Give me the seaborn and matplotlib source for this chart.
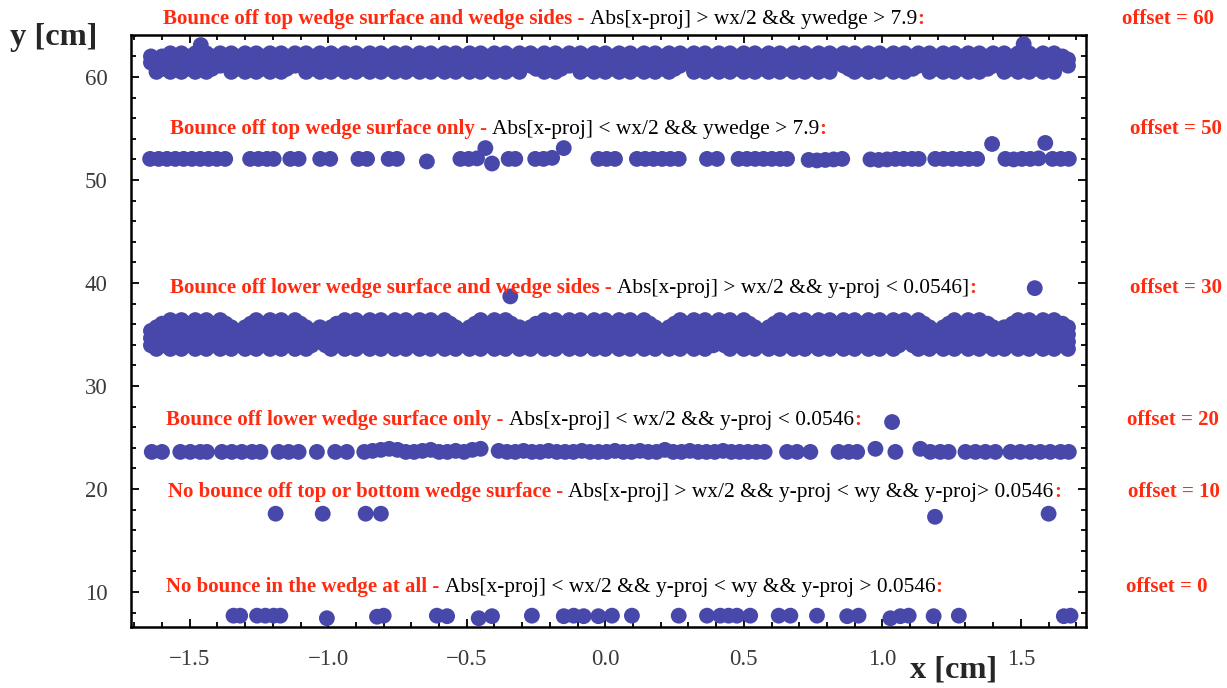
import matplotlib
matplotlib.use("Agg")
import matplotlib.pyplot as plt
from matplotlib.ticker import MultipleLocator
import pandas as pd
import seaborn as sns

# ---------------------------------------------------------------------------
# Hit positions (x [cm], y [cm]) grouped by bounce category
# ---------------------------------------------------------------------------

# Full-width fill positions used inside both dense strips (two staggered sets)
strip_even_x = [
    -1.64, -1.60, -1.55, -1.51, -1.46, -1.42, -1.37, -1.33, -1.28, -1.24,
    -1.19, -1.15, -1.10, -1.06, -1.01, -0.97, -0.92, -0.88, -0.83, -0.79,
    -0.74, -0.70, -0.65, -0.61, -0.56, -0.52, -0.47, -0.43, -0.38, -0.34,
    -0.29, -0.25, -0.20, -0.16, -0.11, -0.07, -0.02, 0.03, 0.07, 0.12,
    0.16, 0.21, 0.25, 0.30, 0.34, 0.39, 0.43, 0.48, 0.52, 0.57,
    0.61, 0.66, 0.70, 0.75, 0.79, 0.84, 0.88, 0.93, 0.97, 1.02,
    1.06, 1.11, 1.15, 1.20, 1.24, 1.29, 1.33, 1.38, 1.42, 1.47,
    1.51, 1.56, 1.60, 1.65]
strip_odd_x = [
    -1.62, -1.57, -1.53, -1.48, -1.44, -1.39, -1.35, -1.30, -1.26, -1.21,
    -1.17, -1.12, -1.08, -1.03, -0.99, -0.94, -0.90, -0.85, -0.81, -0.76,
    -0.72, -0.67, -0.63, -0.58, -0.54, -0.49, -0.45, -0.40, -0.36, -0.31,
    -0.27, -0.22, -0.18, -0.13, -0.09, -0.04, 0.00, 0.05, 0.09, 0.14,
    0.18, 0.23, 0.27, 0.32, 0.36, 0.41, 0.45, 0.50, 0.54, 0.59,
    0.63, 0.68, 0.72, 0.77, 0.81, 0.86, 0.90, 0.95, 0.99, 1.04,
    1.08, 1.13, 1.17, 1.22, 1.26, 1.31, 1.35, 1.40, 1.44, 1.49,
    1.53, 1.58, 1.62, 1.67]

# offset = 60 : bounce off top wedge surface and wedge sides (dense strip)
top_sides_y_levels = [60.5, 60.8, 61.1, 61.4, 61.7, 62.0, 62.3]
top_sides_low_a_x = [
    -1.62, -1.57, -1.53, -1.48, -1.44, -1.35, -1.30, -1.26, -1.21, -1.17,
    -1.08, -1.03, -0.99, -0.94, -0.90, -0.85, -0.81, -0.76, -0.72, -0.67,
    -0.63, -0.58, -0.54, -0.49, -0.45, -0.40, -0.36, -0.31, -0.22, -0.18,
    -0.09, -0.04, 0.00, 0.05, 0.09, 0.14, 0.18, 0.23, 0.32, 0.36,
    0.41, 0.45, 0.50, 0.54, 0.59, 0.63, 0.68, 0.72, 0.77, 0.81,
    0.90, 0.95, 0.99, 1.04, 1.08, 1.17, 1.22, 1.26, 1.31, 1.35,
    1.44, 1.49, 1.53, 1.58, 1.62]
top_sides_low_b_x = [
    -1.60, -1.55, -1.51, -1.46, -1.42, -1.33, -1.28, -1.24,
    -1.19, -1.15, -1.06, -1.01, -0.97, -0.92, -0.88, -0.83, -0.79,
    -0.74, -0.70, -0.65, -0.61, -0.56, -0.52, -0.47, -0.43, -0.38, -0.34,
    -0.25, -0.20, -0.16, -0.07, -0.02, 0.03, 0.07, 0.12,
    0.16, 0.21, 0.25, 0.34, 0.39, 0.43, 0.48, 0.52, 0.57,
    0.61, 0.66, 0.70, 0.75, 0.79, 0.88, 0.93, 0.97, 1.02,
    1.06, 1.11, 1.20, 1.24, 1.29, 1.33, 1.38, 1.47,
    1.51, 1.56, 1.60]
top_sides_high_x = [
    -1.57, -1.53, -1.48, -1.44, -1.39, -1.35, -1.30, -1.26, -1.21,
    -1.17, -1.12, -1.08, -1.03, -0.99, -0.94, -0.90, -0.85, -0.81, -0.76,
    -0.72, -0.67, -0.63, -0.58, -0.54, -0.49, -0.45, -0.40, -0.36, -0.31,
    -0.27, -0.22, -0.18, -0.13, -0.09, -0.04, 0.00, 0.05, 0.09, 0.14,
    0.18, 0.23, 0.27, 0.32, 0.36, 0.41, 0.45, 0.50, 0.54, 0.59,
    0.63, 0.68, 0.72, 0.77, 0.81, 0.86, 0.90, 0.95, 0.99, 1.04,
    1.08, 1.13, 1.17, 1.22, 1.26, 1.31, 1.35, 1.40, 1.44, 1.49,
    1.53, 1.58, 1.62]
top_sides_extra_x = [-1.46, 1.51]
top_sides_extra_y = [63.1, 63.2]

# offset = 50 : bounce off top wedge surface only
top_only_x = [
    -1.643, -1.612, -1.582, -1.552, -1.522, -1.492, -1.462, -1.432, -1.402, -1.372,
    -1.282, -1.252, -1.221, -1.197, -1.137, -1.107, -1.029, -0.993, -0.891, -0.860,
    -0.782, -0.752, -0.644, -0.523, -0.493, -0.463, -0.433, -0.409, -0.349, -0.325,
    -0.253, -0.223, -0.192, -0.150, -0.025, 0.005, 0.035, 0.114, 0.144, 0.174,
    0.205, 0.235, 0.265, 0.367, 0.403, 0.481, 0.511, 0.541, 0.571, 0.601,
    0.631, 0.656, 0.734, 0.764, 0.794, 0.824, 0.855, 0.957, 0.987, 1.017,
    1.047, 1.077, 1.107, 1.131, 1.191, 1.221, 1.252, 1.282, 1.312, 1.342,
    1.396, 1.444, 1.474, 1.504, 1.534, 1.564, 1.588, 1.614, 1.644, 1.673]
top_only_y = [
    52.05, 52.05, 52.05, 52.05, 52.05, 52.05, 52.05, 52.05, 52.05, 52.05,
    52.05, 52.05, 52.05, 52.05, 52.05, 52.05, 52.05, 52.05, 52.05, 52.05,
    52.05, 52.05, 51.8, 52.05, 52.05, 52.1, 53.1, 51.6, 52.05, 52.05,
    52.05, 52.05, 52.15, 53.1, 52.05, 52.05, 52.05, 52.05, 52.05, 52.05,
    52.05, 52.05, 52.05, 52.05, 52.05, 52.05, 52.05, 52.05, 52.05, 52.05,
    52.05, 52.05, 51.95, 51.9, 51.95, 52.0, 52.05, 52.0, 51.95, 52.0,
    52.05, 52.05, 52.05, 52.05, 52.05, 52.05, 52.05, 52.05, 52.05, 52.05,
    53.5, 52.05, 52.0, 52.05, 52.05, 52.1, 53.6, 52.05, 52.05, 52.05]

# offset = 30 : bounce off lower wedge surface and wedge sides (dense strip)
low_sides_y_levels = [33.6, 33.95, 34.3, 34.65, 35.0, 35.35, 35.7, 36.05, 36.4]
low_sides_low_x = [
    -1.62, -1.57, -1.53, -1.48, -1.44, -1.39, -1.35, -1.30, -1.26, -1.21,
    -1.17, -1.12, -1.08, -0.99, -0.94, -0.90, -0.85, -0.81, -0.76,
    -0.72, -0.67, -0.63, -0.58, -0.54, -0.49, -0.45, -0.40, -0.36, -0.31,
    -0.27, -0.22, -0.18, -0.13, -0.09, -0.04, 0.00, 0.05, 0.09, 0.14,
    0.18, 0.23, 0.27, 0.32, 0.36, 0.45, 0.50, 0.54, 0.59,
    0.63, 0.68, 0.72, 0.77, 0.81, 0.86, 0.90, 0.95, 0.99, 1.04,
    1.13, 1.17, 1.22, 1.26, 1.31, 1.35, 1.40, 1.44, 1.49,
    1.53, 1.58, 1.62, 1.67]
low_sides_high_b_x = [
    -1.60, -1.55, -1.51, -1.46, -1.42, -1.37, -1.28, -1.24,
    -1.19, -1.15, -1.10, -0.97, -0.92, -0.88, -0.83, -0.79,
    -0.74, -0.70, -0.65, -0.61, -0.56, -0.47, -0.43, -0.38, -0.34,
    -0.25, -0.20, -0.16, -0.11, -0.07, -0.02, 0.03, 0.07, 0.12,
    0.16, 0.25, 0.30, 0.34, 0.39, 0.43, 0.48, 0.52,
    0.61, 0.66, 0.70, 0.75, 0.79, 0.84, 0.88, 0.93, 0.97, 1.02,
    1.06, 1.11, 1.15, 1.24, 1.29, 1.33, 1.38, 1.47,
    1.51, 1.56, 1.60, 1.65]
low_sides_high_a_x = [
    -1.57, -1.53, -1.48, -1.44, -1.39, -1.26, -1.21,
    -1.17, -1.12, -0.94, -0.90, -0.85, -0.81, -0.76,
    -0.72, -0.67, -0.63, -0.58, -0.45, -0.40, -0.36,
    -0.22, -0.18, -0.13, -0.09, -0.04, 0.00, 0.05, 0.09, 0.14,
    0.27, 0.32, 0.36, 0.41, 0.45, 0.50,
    0.63, 0.68, 0.72, 0.77, 0.81, 0.86, 0.90, 0.95, 0.99, 1.04,
    1.08, 1.13, 1.26, 1.31, 1.35, 1.49,
    1.53, 1.58, 1.62]
low_sides_extra_x = [-0.343, 1.55]
low_sides_extra_y = [38.7, 39.5]

# offset = 20 : bounce off lower wedge surface only
low_only_x = [
    -1.637, -1.600, -1.534, -1.498, -1.462, -1.438, -1.384, -1.348, -1.312, -1.275,
    -1.245, -1.179, -1.143, -1.107, -1.041, -0.975, -0.933,
    -0.87, -0.84, -0.81, -0.78, -0.75, -0.72, -0.69, -0.66, -0.63, -0.60,
    -0.57, -0.54, -0.51, -0.48, -0.45,
    -0.385, -0.355, -0.325, -0.295, -0.265, -0.235, -0.205, -0.175, -0.145, -0.115,
    -0.085, -0.055, -0.025, 0.005, 0.035, 0.065, 0.095, 0.125, 0.155, 0.185,
    0.215, 0.245, 0.275, 0.305, 0.335, 0.365, 0.395, 0.425, 0.455, 0.485,
    0.515, 0.545, 0.575,
    0.656, 0.692, 0.740, 0.842, 0.878, 0.909, 0.975, 1.035, 1.047, 1.137,
    1.173, 1.209, 1.239, 1.300, 1.336, 1.372, 1.408, 1.462, 1.498, 1.534,
    1.570, 1.606, 1.643, 1.673]
low_only_y = [
    23.6, 23.6, 23.6, 23.6, 23.6, 23.6, 23.6, 23.6, 23.6, 23.6,
    23.6, 23.6, 23.6, 23.6, 23.6, 23.6, 23.6,
    23.6, 23.7, 23.8, 23.9, 23.8, 23.6, 23.6, 23.7, 23.8, 23.6,
    23.6, 23.7, 23.6, 23.8, 23.9,
    23.7, 23.6, 23.6, 23.7, 23.6, 23.6, 23.7, 23.6, 23.6, 23.6,
    23.7, 23.6, 23.6, 23.6, 23.7, 23.6, 23.6, 23.7, 23.6, 23.6,
    23.8, 23.6, 23.6, 23.7, 23.6, 23.6, 23.6, 23.7, 23.6, 23.6,
    23.6, 23.6, 23.6,
    23.6, 23.6, 23.6, 23.6, 23.6, 23.6, 23.9, 26.5, 23.6, 23.9,
    23.6, 23.6, 23.6, 23.6, 23.6, 23.6, 23.6, 23.6, 23.6, 23.6,
    23.6, 23.6, 23.6, 23.6]

# offset = 10 : no bounce off top or bottom wedge surface
no_surface_x = [-1.19, -1.02, -0.865, -0.81, 1.19, 1.60]
no_surface_y = [17.6, 17.6, 17.6, 17.6, 17.3, 17.6]

# offset = 0 : no bounce in the wedge at all
no_bounce_x = [
    -1.342, -1.318, -1.257, -1.227, -1.197, -1.173, -1.005, -0.824, -0.800, -0.608,
    -0.571, -0.457, -0.409, -0.265, -0.150, -0.114, -0.078, -0.025, 0.024, 0.096,
    0.265, 0.367, 0.415, 0.445, 0.475, 0.523, 0.626, 0.668, 0.764, 0.873,
    0.914, 1.029, 1.065, 1.095, 1.185, 1.276, 1.655, 1.679]
no_bounce_y = [
    7.7, 7.7, 7.7, 7.7, 7.7, 7.7, 7.45, 7.6, 7.7, 7.7,
    7.65, 7.45, 7.65, 7.7, 7.65, 7.7, 7.65, 7.65, 7.7, 7.7,
    7.7, 7.7, 7.7, 7.7, 7.7, 7.7, 7.7, 7.7, 7.7, 7.65,
    7.7, 7.45, 7.65, 7.7, 7.65, 7.7, 7.65, 7.7]

# Annotation text for each category: (red title, black condition, offset label)
titles = [
    "Bounce off top wedge surface and wedge sides -",
    "Bounce off top wedge surface only -",
    "Bounce off lower wedge surface and wedge sides -",
    "Bounce off lower wedge surface only -",
    "No bounce off top or bottom wedge surface -",
    "No bounce in the wedge at all -",
]
conditions = [
    "Abs[x-proj] > wx/2 && ywedge > 7.9",
    "Abs[x-proj] < wx/2 && ywedge > 7.9",
    "Abs[x-proj] > wx/2 && y-proj < 0.0546]",
    "Abs[x-proj] < wx/2 && y-proj < 0.0546",
    "Abs[x-proj] > wx/2 && y-proj < wy && y-proj> 0.0546",
    "Abs[x-proj] < wx/2 && y-proj < wy && y-proj > 0.0546",
]
offset_labels = ["offset = 60", "offset = 50", "offset = 30",
                 "offset = 20", "offset = 10", "offset = 0"]

# ---------------------------------------------------------------------------
# Assemble one long table of points
# ---------------------------------------------------------------------------
xs, ys = [], []


def add_rows(levels, rows):
    for level, row in zip(levels, rows):
        xs.extend(row)
        ys.extend([level] * len(row))


add_rows(top_sides_y_levels,
         [top_sides_low_a_x, top_sides_low_b_x, strip_odd_x, strip_even_x,
          strip_odd_x, strip_even_x, top_sides_high_x])
xs += top_sides_extra_x
ys += top_sides_extra_y
xs += top_only_x
ys += top_only_y
add_rows(low_sides_y_levels,
         [low_sides_low_x, strip_even_x, strip_odd_x, strip_even_x, strip_odd_x,
          strip_even_x, strip_odd_x, low_sides_high_b_x, low_sides_high_a_x])
xs += low_sides_extra_x
ys += low_sides_extra_y
xs += low_only_x
ys += low_only_y
xs += no_surface_x
ys += no_surface_y
xs += no_bounce_x
ys += no_bounce_y
hits = pd.DataFrame({"x": xs, "y": ys})

# ---------------------------------------------------------------------------
# Figure
# ---------------------------------------------------------------------------
sns.set_theme(style="ticks")
SERIF = ["Liberation Serif", "DejaVu Serif"]
plt.rcParams["font.family"] = SERIF
plt.rcParams["axes.unicode_minus"] = True

W, H = 1227, 688
fig = plt.figure(figsize=(W / 100, H / 100), dpi=100)
ax = fig.add_axes([131 / W, 1 - 627 / H, (1086 - 131) / W, (627 - 35) / H])

sns.scatterplot(data=hits, x="x", y="y", ax=ax, s=130, color="#4848AA",
                edgecolor="none", linewidth=0, alpha=1.0, legend=False, zorder=3)

ax.set_xlim(-1.712, 1.735)
ax.set_ylim(6.6, 64.08)
ax.set_xlabel("")
ax.set_ylabel("")

ax.xaxis.set_major_locator(MultipleLocator(0.5))
ax.xaxis.set_minor_locator(MultipleLocator(0.1))
ax.yaxis.set_major_locator(MultipleLocator(10))
ax.yaxis.set_minor_locator(MultipleLocator(2))
ax.xaxis.set_major_formatter(plt.FuncFormatter(lambda v, p: f"{v:.1f}".replace("-", "\u2212")))
ax.yaxis.set_major_formatter(plt.FuncFormatter(lambda v, p: f"{v:.0f}"))

ax.tick_params(which="both", direction="in", top=True, right=True,
               color="black", width=1.3)
ax.tick_params(which="major", length=6, labelsize=16.5, labelcolor="#3a3a3a")
ax.tick_params(axis="x", which="major", pad=16)
ax.tick_params(axis="y", which="major", pad=17)
ax.tick_params(which="minor", length=3.5)
for sp in ax.spines.values():
    sp.set_visible(True)
    sp.set_linewidth(1.8)
    sp.set_color("black")

# Axis titles
fig.text(10 / W, 1 - 38 / H, "y [cm]", fontsize=23.3, fontweight="bold",
         family=SERIF, ha="left", va="center")
fig.text(910 / W, 1 - 670 / H, "x [cm]", fontsize=23.3, fontweight="bold",
         family=SERIF, ha="left", va="center")

# Category annotations: red bold title, black condition, red colon
RED = "#FF2A10"
RED_SIZE = 15.0
BLACK_SIZE = 15.4
line_x = [163, 170, 170, 166, 168, 166]
line_base = [24, 134, 293, 425, 497, 592]
offset_x = [1122, 1130, 1130, 1127, 1128, 1126]

fig.canvas.draw()
renderer = fig.canvas.get_renderer()


def text_width(s, size, **kw):
    t = fig.text(0, 0, s, fontsize=size, family=SERIF, **kw)
    w = t.get_window_extent(renderer).width
    t.remove()
    return w


space_w = text_width("a a", BLACK_SIZE) - text_width("aa", BLACK_SIZE)

for lx, lb, title, cond, off, ox in zip(line_x, line_base, titles, conditions,
                                        offset_labels, offset_x):
    yb = 1 - lb / H
    t1 = fig.text(lx / W, yb, title, color=RED, fontweight="bold", fontsize=RED_SIZE,
                  family=SERIF, ha="left", va="baseline")
    x1 = t1.get_window_extent(renderer).x1 + space_w
    t2 = fig.text(x1 / W, yb, cond, color="black", fontsize=BLACK_SIZE,
                  family=SERIF, ha="left", va="baseline")
    x2 = t2.get_window_extent(renderer).x1
    fig.text(x2 / W, yb, ":", color=RED, fontweight="bold", fontsize=RED_SIZE,
             family=SERIF, ha="left", va="baseline")
    fig.text(ox / W, yb, off, color=RED, fontweight="bold", fontsize=RED_SIZE,
             family=SERIF, ha="left", va="baseline")

fig.savefig("out.png", dpi=100)
